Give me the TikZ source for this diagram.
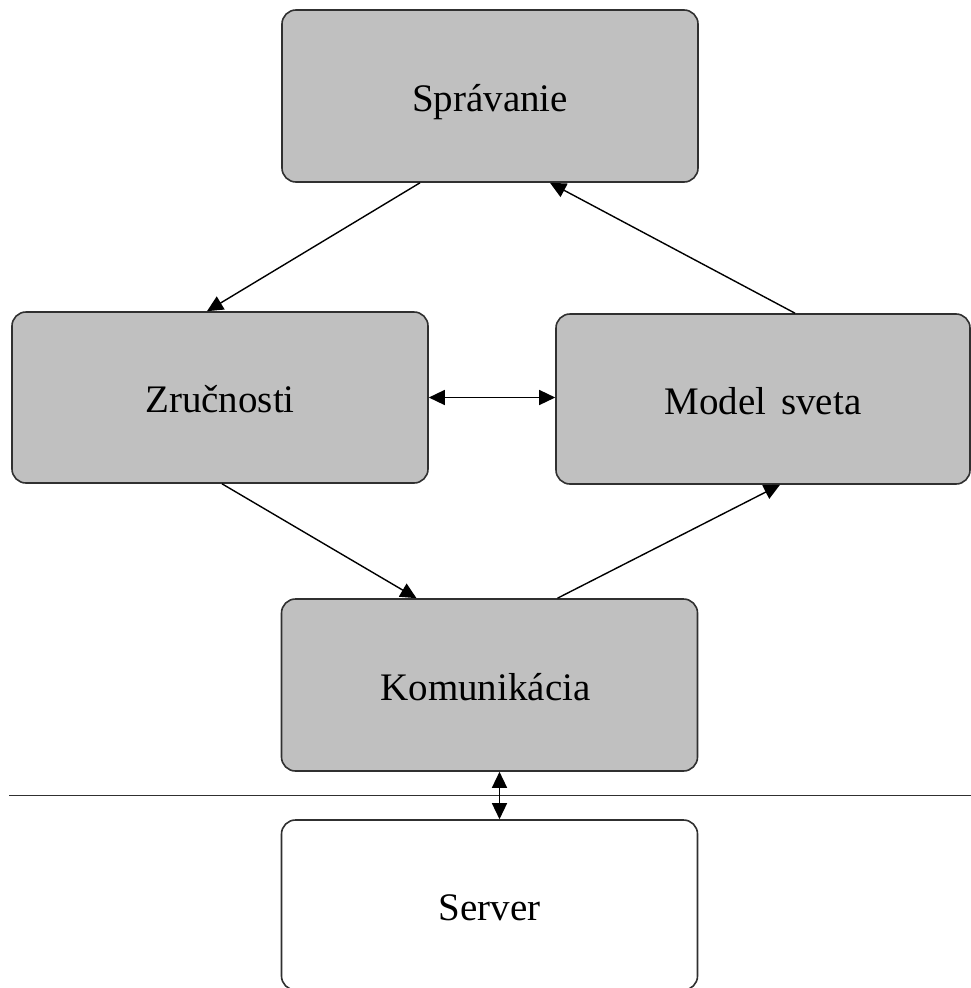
\documentclass[tikz,border=0pt]{standalone}
\usepackage{fontspec}
\setmainfont{Liberation Serif}
\usetikzlibrary{arrows.meta}
\definecolor{boxgray}{HTML}{C0C0C0}
\definecolor{edgegray}{HTML}{303030}
\tikzset{
  box/.style={draw=edgegray, line width=1.6pt, rounded corners=14pt, fill=boxgray,
    minimum width=416pt, minimum height=172pt, inner sep=0pt,
    text height=30pt, text depth=0pt,
    font=\fontsize{39}{41}\selectfont},
  whitebox/.style={box, fill=white},
  arr/.style={line width=1.4pt, -{Triangle[length=16pt,width=15pt]}},
  dblarr/.style={line width=1.4pt, {Triangle[length=16pt,width=15pt]}-{Triangle[length=16pt,width=15pt]}},
}
\begin{document}
\begin{tikzpicture}[x=1pt,y=-1pt]
\useasboundingbox (0,0) rectangle (971,988);
\node[box] (spr) at (490,96) {Správanie};
\node[box, minimum height=171pt] (zru) at (220,397.5) {Zručnosti};
\node[box, minimum width=414pt, minimum height=170pt] (mod) at (763,399) {Model\hspace{0.38em}sveta};
\node[box] (kom) at (489.5,685) {\hspace*{-8pt}Komunikácia};
\node[whitebox, minimum height=170pt] (srv) at (489.5,905) {Server};
\coordinate (hl) at (9,795.5);
\coordinate (hr) at (971,795.5);
\draw[edgegray, line width=1.5pt] (hl) -- (hr);
\draw[arr] ([xshift=-70pt]spr.south) -- ([xshift=-13pt]zru.north);
\draw[arr] ([xshift=32pt]mod.north) -- ([xshift=60pt]spr.south);
\draw[arr] ([xshift=2pt]zru.south) -- ([xshift=-73pt]kom.north);
\draw[arr] ([xshift=68pt]kom.north) -- ([xshift=17pt]mod.south);
\draw[dblarr] (zru.east) -- (zru.east -| mod.west);
\draw[dblarr] ([xshift=10pt]kom.south) -- ([xshift=10pt]kom.south |- srv.north);
\end{tikzpicture}
\end{document}
